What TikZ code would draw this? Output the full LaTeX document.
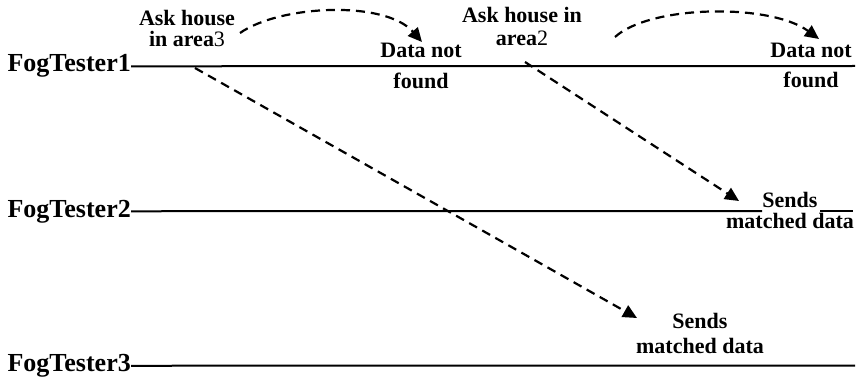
\documentclass[tikz,border=0pt]{standalone}
\usepackage{fontspec}
\setmainfont{Liberation Serif}
\usetikzlibrary{arrows.meta}

\begin{document}
\begin{tikzpicture}[x=1pt,y=-1pt,
    tester/.style={inner sep=0pt,anchor=base east,font=\fontsize{26}{30}\selectfont\bfseries},
    msg/.style={inner sep=0pt,anchor=north,align=center,font=\fontsize{22}{21}\selectfont\bfseries},
    timeline/.style={line width=2pt},
    call/.style={line width=2.2pt,dash pattern=on 9pt off 6pt,-{Triangle[length=14pt,width=13pt]}}]
  \useasboundingbox (0,0) rectangle (859,377);

  % testers
  \node[tester] (T1) at (131,72) {FogTester1};
  \node[tester] (T2) at (131,217) {FogTester2};
  \node[tester] (T3) at (131,371.5) {FogTester3};

  \coordinate (E1) at (855,66);
  \coordinate (E2a) at (762,211);
  \coordinate (E2b) at (820,211);
  \coordinate (E2c) at (853,211);
  \coordinate (E3) at (855,365.5);

  \draw[timeline] (T1.east) -- (E1);
  \draw[timeline] (T2.east) -- (E2a);
  \draw[timeline] (E2b) -- (E2c);
  \draw[timeline] (T3.east) -- (E3);

  % messages
  \node[msg] (Ask3) at (187,10) {Ask house\\in area\textmd{3}};
  \node[msg] (NotFound1) at (421,43) {Data not\\[10pt]found};
  \node[msg] (Ask2) at (522,7) {Ask house in\\[2pt]area\textmd{2}};
  \node[msg] (NotFound2) at (811,43) {Data not\\[9pt]found};
  \node[msg] (Sends2) at (790,192) {Sends\\matched data};
  \node[msg] (Sends3) at (700,313) {Sends\\[4pt]matched data};

  \coordinate (A1) at (240,33);
  \coordinate (B1) at (422,42);
  \coordinate (A2) at (615,37);
  \coordinate (B2) at (819,39);
  \coordinate (A3) at (195,68);
  \coordinate (B3) at (637,318);
  \coordinate (A4) at (525,62);
  \coordinate (B4) at (739,201);

  \draw[call] (A1) .. controls (280,5) and (385,0) .. (B1);
  \draw[call] (A2) .. controls (650,5) and (770,3) .. (B2);
  \draw[call] (A3) -- (B3);
  \draw[call] (A4) -- (B4);
\end{tikzpicture}
\end{document}
